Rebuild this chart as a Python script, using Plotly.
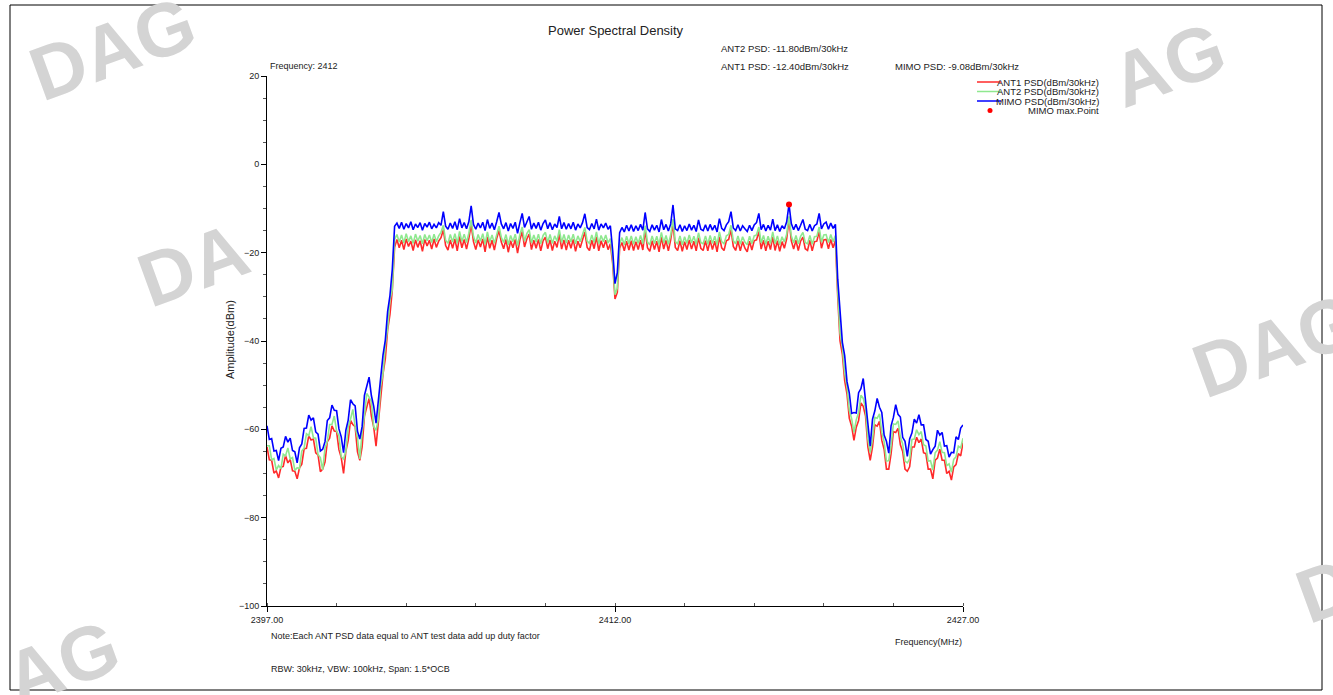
import numpy as np
import plotly.graph_objects as go

# ---------------- data ----------------
# sweep grid: 2397.0 .. 2427.0 MHz, 0.1 MHz steps (301 points)
freq = np.round(2397.0 + 0.1 * np.arange(301), 1)

mimo_psd = [
    -59.2, -62.3, -62.1, -64.9, -64.8, -67.1, -64.3, -64.0, -61.6, -62.9,
    -62.0, -64.8, -65.1, -67.6, -64.2, -63.3, -59.8, -59.7, -56.8, -57.9,
    -57.4, -60.6, -61.1, -64.9, -64.5, -62.8, -58.0, -57.4, -54.5, -55.7,
    -55.8, -59.9, -61.7, -65.3, -60.2, -57.9, -53.3, -54.2, -54.7, -60.4,
    -62.2, -59.4, -52.3, -50.3, -48.2, -52.4, -54.8, -58.6, -53.2, -48.8,
    -43.2, -39.8, -33.3, -29.7, -23.8, -14.0, -13.3, -14.5, -13.1, -14.7,
    -13.4, -14.4, -13.0, -14.8, -13.5, -14.3, -13.2, -14.9, -13.4, -14.2,
    -13.1, -14.6, -13.6, -14.4, -13.2, -13.8, -10.7, -14.0, -14.7, -13.3,
    -14.5, -13.0, -14.8, -12.3, -14.4, -13.2, -14.6, -13.0, -9.4, -13.6,
    -14.7, -13.3, -14.4, -13.1, -15.0, -12.5, -14.5, -13.3, -14.8, -13.0,
    -10.9, -13.5, -14.6, -13.2, -15.1, -13.4, -14.5, -13.1, -15.6, -13.2,
    -11.1, -14.3, -13.0, -11.8, -14.7, -13.3, -14.5, -13.1, -14.9, -13.4,
    -12.6, -14.6, -13.2, -14.8, -13.5, -14.3, -11.8, -14.6, -13.2, -14.7,
    -13.4, -14.6, -13.1, -14.9, -13.5, -14.4, -13.2, -11.2, -14.3, -14.8,
    -13.4, -14.6, -12.4, -14.9, -13.5, -14.4, -13.3, -14.7, -13.9, -19.5,
    -27.0, -24.5, -15.5, -14.3, -15.3, -13.8, -15.1, -13.7, -15.2, -13.9,
    -15.0, -13.6, -14.9, -10.9, -14.6, -15.2, -13.7, -14.9, -13.8, -15.3,
    -12.5, -14.8, -13.6, -15.1, -13.5, -9.2, -14.6, -15.0, -13.7, -15.2,
    -13.9, -15.0, -13.5, -14.9, -13.8, -15.2, -12.6, -14.7, -15.0, -13.7,
    -15.1, -13.6, -14.9, -13.8, -15.3, -12.3, -14.5, -15.0, -13.7, -13.0,
    -10.7, -14.4, -15.0, -13.7, -15.1, -13.9, -14.6, -15.2, -13.8, -15.0,
    -13.7, -13.2, -11.1, -14.8, -13.6, -15.1, -13.8, -14.9, -12.4, -15.0,
    -13.7, -15.2, -13.9, -14.6, -13.0, -9.08, -13.4, -14.8, -13.6, -15.0,
    -13.8, -12.5, -14.7, -15.0, -13.6, -15.1, -13.9, -13.5, -11.1, -14.6,
    -13.5, -13.1, -14.7, -13.3, -14.5, -13.6, -26.0, -34.2, -40.3, -43.3,
    -49.2, -51.8, -56.4, -56.2, -56.3, -51.7, -50.8, -48.5, -53.8, -57.7,
    -63.8, -57.7, -55.8, -53.0, -55.0, -56.2, -61.3, -62.7, -65.4, -59.2,
    -57.3, -54.4, -56.6, -57.2, -61.8, -62.7, -66.1, -62.2, -60.8, -57.7,
    -58.6, -56.7, -59.0, -59.0, -62.3, -62.7, -65.6, -64.6, -63.8, -60.2,
    -61.3, -60.7, -63.8, -63.7, -66.3, -65.2, -65.3, -61.7, -62.3, -59.7,
    -59.0,
]

ant2_psd = [
    -63.7, -63.7, -66.9, -66.6, -69.2, -68.2, -68.9, -65.6, -66.0, -64.2,
    -66.7, -66.4, -69.3, -68.7, -68.9, -64.9, -64.2, -61.0, -61.4, -59.4,
    -61.9, -62.0, -65.7, -66.4, -69.2, -64.2, -62.7, -58.9, -58.9, -57.0,
    -60.4, -61.4, -66.2, -66.7, -64.9, -59.4, -57.7, -55.5, -59.4, -61.9,
    -66.7, -60.7, -56.9, -51.9, -52.7, -53.7, -59.4, -60.2, -57.7, -50.2,
    -47.4, -40.9, -37.2, -30.7, -28.4, -17.0, -15.9, -17.6, -16.0, -17.8,
    -15.7, -17.5, -16.2, -17.9, -15.8, -17.4, -16.1, -18.0, -15.9, -17.3,
    -16.0, -17.7, -15.8, -17.5, -16.2, -15.4, -13.8, -17.2, -17.9, -15.9,
    -17.6, -15.7, -17.9, -15.2, -17.5, -15.8, -17.7, -15.6, -12.6, -16.3,
    -17.8, -15.9, -17.4, -15.7, -18.1, -15.3, -17.6, -16.0, -17.9, -15.6,
    -14.0, -16.5, -17.7, -15.9, -18.2, -16.1, -17.5, -15.8, -18.4, -15.9,
    -14.2, -17.4, -15.7, -14.8, -17.8, -16.0, -17.6, -15.8, -18.0, -16.1,
    -15.4, -17.7, -15.9, -17.9, -16.2, -17.4, -14.8, -17.7, -15.9, -17.8,
    -16.0, -17.6, -15.8, -18.0, -16.2, -17.5, -15.9, -14.3, -17.4, -17.9,
    -16.0, -17.7, -15.3, -18.0, -16.1, -17.5, -16.0, -17.8, -16.8, -21.5,
    -29.5, -28.0, -18.0, -16.6, -18.2, -16.3, -18.0, -16.2, -18.1, -16.4,
    -17.9, -16.1, -18.0, -13.9, -17.6, -18.2, -16.2, -17.9, -16.3, -18.2,
    -15.4, -17.8, -16.1, -18.1, -16.0, -12.4, -17.5, -18.0, -16.2, -18.2,
    -16.4, -17.9, -16.0, -17.8, -16.3, -18.1, -15.5, -17.7, -18.0, -16.2,
    -18.1, -16.1, -17.9, -16.3, -18.2, -15.3, -17.5, -18.0, -16.2, -15.9,
    -13.8, -17.3, -18.0, -16.2, -18.1, -16.4, -17.6, -18.2, -16.3, -18.0,
    -16.2, -16.0, -14.2, -17.8, -16.1, -18.1, -16.3, -17.9, -15.3, -18.0,
    -16.2, -18.2, -16.4, -17.6, -15.8, -11.8, -16.2, -17.8, -16.1, -18.0,
    -16.3, -15.4, -17.7, -18.0, -16.1, -18.1, -16.4, -16.3, -14.2, -17.6,
    -16.0, -15.9, -17.7, -15.9, -17.5, -16.1, -28.5, -38.2, -41.3, -47.2,
    -50.3, -55.7, -57.6, -60.7, -57.8, -56.2, -52.3, -53.0, -55.3, -62.2,
    -65.3, -62.2, -57.3, -57.5, -56.5, -60.7, -62.8, -67.2, -67.1, -63.7,
    -58.8, -58.9, -58.1, -61.7, -63.3, -67.2, -67.6, -66.7, -62.3, -62.2,
    -60.1, -61.2, -60.5, -63.5, -63.8, -67.2, -67.1, -69.2, -65.3, -64.7,
    -62.8, -65.2, -65.3, -68.2, -67.8, -69.7, -66.8, -66.2, -63.8, -64.2,
    -62.0,
]

ant1_psd = [
    -64.0, -66.9, -67.0, -69.9, -69.4, -71.0, -68.6, -68.4, -65.9, -67.6,
    -66.8, -69.4, -69.5, -71.2, -68.7, -67.9, -64.4, -64.3, -61.5, -62.4,
    -62.2, -65.3, -65.8, -69.6, -69.0, -67.4, -62.8, -62.0, -59.2, -60.4,
    -60.5, -64.6, -66.4, -70.0, -64.9, -62.5, -58.0, -58.9, -59.4, -65.1,
    -67.0, -64.0, -57.0, -55.0, -53.0, -57.0, -59.5, -63.8, -58.0, -53.5,
    -47.5, -44.0, -37.5, -34.0, -28.5, -18.8, -17.0, -18.9, -17.2, -19.3,
    -16.9, -18.6, -17.4, -19.5, -17.1, -18.8, -17.3, -19.7, -17.0, -18.5,
    -17.2, -19.2, -16.9, -18.8, -17.4, -16.6, -14.8, -18.4, -19.4, -17.1,
    -19.0, -16.9, -19.6, -16.3, -18.9, -17.0, -19.2, -16.8, -13.6, -17.5,
    -19.3, -17.1, -18.7, -16.9, -19.8, -16.4, -19.0, -17.2, -19.4, -16.8,
    -15.0, -17.6, -19.1, -17.0, -19.9, -17.3, -18.9, -17.0, -20.1, -17.1,
    -15.2, -18.7, -16.9, -15.8, -19.3, -17.2, -19.0, -17.0, -19.6, -17.3,
    -16.5, -19.1, -17.1, -19.5, -17.4, -18.8, -15.8, -19.2, -17.1, -19.4,
    -17.2, -19.0, -17.0, -19.7, -17.4, -18.9, -17.1, -15.3, -18.8, -19.5,
    -17.2, -19.1, -16.4, -19.6, -17.3, -18.9, -17.2, -19.3, -18.0, -22.5,
    -30.5, -29.0, -19.0, -17.7, -19.6, -17.4, -19.4, -17.3, -19.5, -17.5,
    -19.3, -17.2, -19.4, -14.9, -18.9, -19.7, -17.3, -19.3, -17.4, -19.8,
    -16.5, -19.2, -17.2, -19.6, -17.1, -13.4, -18.8, -19.5, -17.3, -19.7,
    -17.5, -19.3, -17.1, -19.2, -17.4, -19.6, -16.6, -19.0, -19.5, -17.3,
    -19.6, -17.2, -19.3, -17.4, -19.8, -16.4, -18.9, -19.5, -17.3, -17.0,
    -14.8, -18.6, -19.5, -17.3, -19.6, -17.5, -19.0, -19.8, -17.4, -19.4,
    -17.3, -17.1, -15.2, -19.2, -17.2, -19.6, -17.4, -19.3, -16.4, -19.5,
    -17.3, -19.7, -17.5, -19.0, -16.9, -12.4, -17.3, -19.2, -17.2, -19.5,
    -17.4, -16.5, -19.1, -19.5, -17.2, -19.6, -17.5, -17.4, -15.2, -19.0,
    -17.1, -17.0, -19.1, -17.0, -18.9, -17.2, -30.0, -40.0, -43.0, -49.0,
    -52.0, -57.5, -59.3, -62.5, -59.5, -58.0, -54.0, -54.8, -57.0, -64.0,
    -67.0, -64.0, -59.0, -59.3, -58.2, -62.5, -64.5, -69.0, -69.0, -65.5,
    -60.5, -60.7, -59.8, -63.5, -65.0, -69.0, -69.5, -68.5, -64.0, -64.0,
    -61.8, -63.0, -62.2, -65.3, -65.5, -69.0, -69.0, -71.2, -67.0, -66.5,
    -64.5, -67.0, -67.0, -70.0, -69.5, -71.5, -68.5, -68.0, -65.5, -66.0,
    -63.0,
]

series_names = ["ANT1 PSD(dBm/30kHz)", "ANT2 PSD(dBm/30kHz)", "MIMO PSD(dBm/30kHz)"]
marker_name = "MIMO max.Point"
x_tick_vals = [2397, 2412, 2427]
x_tick_text = ["2397.00", "2412.00", "2427.00"]
y_tick_vals = [-100, -80, -60, -40, -20, 0, 20]
info_texts = {
    "freq": "Frequency: 2412",
    "ant2": "ANT2 PSD: -11.80dBm/30kHz",
    "ant1": "ANT1 PSD: -12.40dBm/30kHz",
    "mimo": "MIMO PSD: -9.08dBm/30kHz",
}

assert len(mimo_psd) == len(ant1_psd) == len(ant2_psd) == len(freq)

# ---------------- styling / layout ----------------
W, H = 1333, 695
L, R, T, B = 267, 963, 76, 606   # plot area in pixels
FONT = "Liberation Sans, Arial, sans-serif"
TXT = "#222222"
RED, GREEN, BLUE = "#ff2a2a", "#8fe88f", "#0000ff"


def px(x):
    return (x - L) / (R - L)


def py(y):
    return (B - y) / (B - T)


fig = go.Figure()
fig.add_trace(go.Scatter(x=freq, y=ant1_psd, mode="lines", name=series_names[0],
                         line=dict(color=RED, width=1.6)))
fig.add_trace(go.Scatter(x=freq, y=ant2_psd, mode="lines", name=series_names[1],
                         line=dict(color=GREEN, width=1.6)))
fig.add_trace(go.Scatter(x=freq, y=mimo_psd, mode="lines", name=series_names[2],
                         line=dict(color=BLUE, width=1.6)))
imax = int(np.argmax(mimo_psd))
fig.add_trace(go.Scatter(x=[freq[imax]], y=[mimo_psd[imax]], mode="markers", name=marker_name,
                         marker=dict(color="#ff0000", size=6, symbol="circle")))

annotations = []
shapes = []


def text(t, x, y, size=9, xanchor="left", yanchor="middle", color=TXT, angle=0):
    annotations.append(dict(text=t, x=px(x), y=py(y), xref="paper", yref="paper",
                            xanchor=xanchor, yanchor=yanchor, showarrow=False,
                            textangle=angle, font=dict(family=FONT, size=size, color=color)))


# watermarks (light grey, outside the chart area)
WM = "#d4d4d4"
for t, x, y in [("<b>DAG</b>", 112, 48), ("<b>AG</b>", 1168, 64), ("<b>DA</b>", 193, 264),
                ("<b>DAG</b>", 1275, 345), ("<b>AG</b>", 62, 662), ("<b>D</b>", 1325, 590)]:
    text(t, x, y, size=76, xanchor="center", color=WM, angle=-20)

# titles and info texts
text("Power Spectral Density", 616, 30, size=13, xanchor="center")
text(info_texts["freq"], 268, 66, size=9)
text(info_texts["ant2"], 719, 48, size=9.5)
text(info_texts["ant1"], 719, 66, size=9.5)
text(info_texts["mimo"], 893, 66, size=9.5)
text("Amplitude(dBm)", 230, 340, size=11, xanchor="center", angle=-90)
text("Frequency(MHz)", 893, 642, size=9)
text("Note:Each ANT PSD data equal to ANT test data add up duty factor", 269, 636, size=9)
text("RBW: 30kHz, VBW: 100kHz, Span: 1.5*OCB", 269, 669, size=9)

# manual legend (right-aligned labels)
leg_rows = [82, 91.5, 101]
for name, col, yy in zip(series_names, [RED, GREEN, BLUE], leg_rows):
    shapes.append(dict(type="line", xref="paper", yref="paper", x0=px(977), x1=px(1001),
                       y0=py(yy), y1=py(yy), line=dict(color=col, width=1.5)))
    text(name, 1101, yy, size=9.5, xanchor="right")
shapes.append(dict(type="circle", xref="paper", yref="paper", x0=px(987.5), x1=px(992.5),
                   y0=py(113), y1=py(108), fillcolor="#ff0000", line=dict(color="#ff0000", width=0)))
text(marker_name, 1101, 110.5, size=9.5, xanchor="right")

# outer frame
shapes.append(dict(type="rect", xref="paper", yref="paper", x0=px(10), x1=px(1322),
                   y0=py(690), y1=py(5), line=dict(color="#000000", width=1)))

fig.update_layout(
    width=W, height=H,
    margin=dict(l=L, r=W - R, t=T, b=H - B, pad=0),
    paper_bgcolor="white", plot_bgcolor="white",
    showlegend=False,
    font=dict(family=FONT, size=9, color=TXT),
    annotations=annotations, shapes=shapes,
    xaxis=dict(range=[2397, 2427], showgrid=False, zeroline=False,
               showline=True, linecolor="black", linewidth=1,
               tickmode="array", tickvals=x_tick_vals, ticktext=x_tick_text,
               ticks="outside", ticklen=5, tickcolor="black",
               tickfont=dict(family=FONT, size=9, color=TXT),
               minor=dict(tickmode="linear", tick0=2397, dtick=3, ticks="inside",
                          ticklen=3, tickcolor="#555555", showgrid=False)),
    yaxis=dict(range=[-100, 20], showgrid=False, zeroline=False,
               showline=True, linecolor="black", linewidth=1,
               tickmode="array", tickvals=y_tick_vals,
               ticks="outside", ticklen=5, tickcolor="black",
               tickfont=dict(family=FONT, size=9, color=TXT),
               minor=dict(tickmode="linear", tick0=-100, dtick=5, ticks="outside",
                          ticklen=3, tickcolor="#555555", showgrid=False)),
)

fig.write_html("out.html", config={"displayModeBar": False},
               post_script="document.body.style.margin='0px';document.body.style.overflow='hidden';")
